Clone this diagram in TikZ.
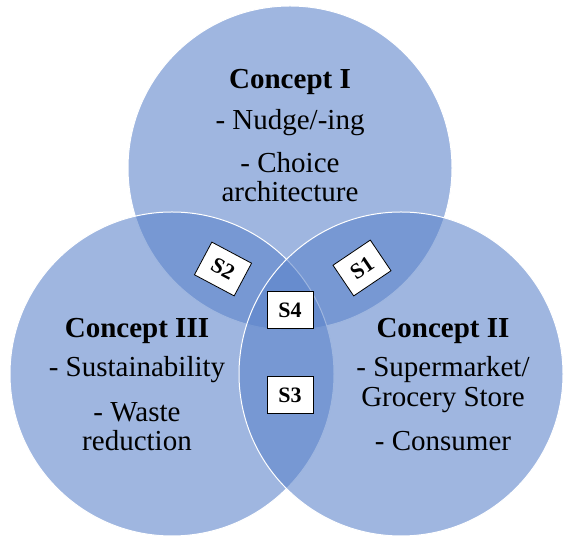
\documentclass[tikz,border=0pt]{standalone}
\usepackage{fontspec}
\setmainfont{Liberation Serif}
\usetikzlibrary{positioning}

\definecolor{vennblue}{RGB}{91,131,202}

\begin{document}
\begin{tikzpicture}[
        x=1pt, y=1pt,
        set/.style={circle, minimum size=324pt, inner sep=0pt, fill=vennblue, fill opacity=0.59, draw=white, line width=1pt},
        head/.style={anchor=base, inner sep=0pt, font=\bfseries\fontsize{29}{30}\selectfont},
        item/.style={anchor=base, inner sep=0pt, font=\fontsize{29}{30}\selectfont},
        tag/.style={draw=black, fill=white, line width=0.8pt, inner sep=0pt, minimum width=45pt, minimum height=37pt, font=\bfseries\fontsize{22}{22}\selectfont}
    ]
        \useasboundingbox (0,0) rectangle (567,537);

        % the three concept circles
        \node[set] (one) at (290,369) {};
        \node[set] (three) at (172,163) {};
        \node[set] (two) at (401,163) {};

        % Concept I
        \node[head] (oneHead) at (290,448) {Concept I};
        \node[item] (oneA) at (290,407) {- Nudge/-ing};
        \node[item] (oneB) at (290,364) {- Choice};
        \node[item] (oneC) at (290,335) {architecture};

        % Concept III
        \node[head] (threeHead) at (137,199) {Concept III};
        \node[item] (threeA) at (137,160) {- Sustainability};
        \node[item] (threeB) at (137,115) {- Waste};
        \node[item] (threeC) at (137,86) {reduction};

        % Concept II
        \node[head] (twoHead) at (443,199) {Concept II};
        \node[item] (twoA) at (443,160) {- Supermarket/};
        \node[item] (twoB) at (443,130) {Grocery Store};
        \node[item] (twoC) at (443,86) {- Consumer};

        % overlap labels
        \node[tag, rotate=34] (s1) at (362,269) {S1};
        \node[tag, rotate=-28] (s2) at (223,268) {S2};
        \node[tag, minimum width=46pt] (s3) at (290,142) {S3};
        \node[tag, minimum width=46pt] (s4) at (290,227) {S4};
    \end{tikzpicture}
\end{document}
